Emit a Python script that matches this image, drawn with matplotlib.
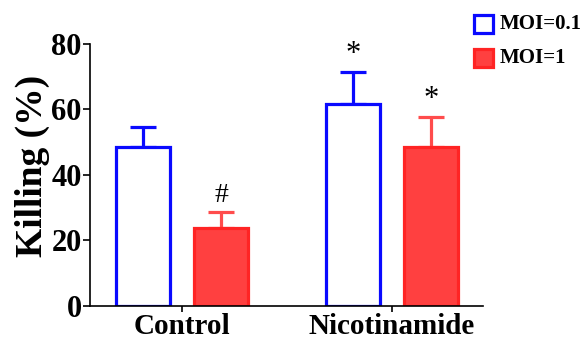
import numpy as np
import matplotlib
matplotlib.use("Agg")
import matplotlib.pyplot as plt
import matplotlib.patches as patches

groups = ["Control", "Nicotinamide"]
series = ["MOI=0.1", "MOI=1"]
means_low = [48.5, 61.7]
err_low = [6.2, 9.8]
means_high = [23.8, 48.5]
err_high = [4.9, 9.2]
marks_low = ["", "*"]
marks_high = ["#", "*"]

blue = "#0a0aff"
red_edge = "#ff2424"
red_fill = "#ff4040"

plt.rcParams["font.family"] = ["Liberation Serif", "DejaVu Serif"]
plt.rcParams["font.weight"] = "bold"

fig = plt.figure(figsize=(5.82, 3.4), dpi=100)
ax = fig.add_axes([0.1546, 0.1, 0.6754, 0.7706])

x = np.arange(len(groups))
w = 0.257
off = 0.186
lw = 2.3

ax.bar(x - off, means_low, w, facecolor="white", edgecolor=blue, linewidth=lw, zorder=2)
ax.errorbar(x - off, means_low, yerr=[np.zeros(2), err_low], fmt="none",
            ecolor=blue, elinewidth=lw, capsize=9.5, capthick=lw, zorder=1)
ax.bar(x + off, means_high, w, facecolor=red_fill, edgecolor=red_edge, linewidth=lw, zorder=2)
ax.errorbar(x + off, means_high, yerr=[np.zeros(2), err_high], fmt="none",
            ecolor="#ff4c4c", elinewidth=lw, capsize=9.5, capthick=lw, zorder=1)

# significance marks above error bars
for i in range(len(groups)):
    for xi, m, e, mk in [(x[i] - off, means_low[i], err_low[i], marks_low[i]),
                         (x[i] + off, means_high[i], err_high[i], marks_high[i])]:
        if mk:
            ax.text(xi, m + e + 3, mk, ha="center", va="baseline",
                    fontsize=22 if mk == "*" else 20, fontweight="normal")

ax.set_xlim(-0.438, 1.433)
ax.set_ylim(0, 80)
ax.set_yticks([0, 20, 40, 60, 80])
ax.set_xticks(x)
ax.set_xticklabels(groups, fontsize=21, fontweight="bold")
ax.tick_params(axis="y", labelsize=22, width=1.2, length=5, pad=1)
ax.tick_params(axis="x", width=1.2, length=4, pad=1)
for lab in ax.get_yticklabels():
    lab.set_fontweight("bold")
ax.spines["top"].set_visible(False)
ax.spines["right"].set_visible(False)
ax.spines["left"].set_linewidth(1.2)
ax.spines["bottom"].set_linewidth(1.2)
ax.set_ylabel("Killing (%)", fontsize=27, fontweight="bold", labelpad=1)
ax.yaxis.label.set_y(0.535)

# legend drawn in figure coordinates
fig.patches.append(patches.Rectangle((474 / 582, 1 - 33 / 340), 19 / 582, 18 / 340,
                                     transform=fig.transFigure, facecolor="white",
                                     edgecolor=blue, linewidth=lw))
fig.patches.append(patches.Rectangle((474 / 582, 1 - 67 / 340), 19 / 582, 18 / 340,
                                     transform=fig.transFigure, facecolor=red_fill,
                                     edgecolor=red_edge, linewidth=lw))
fig.text(500 / 582, 1 - 24 / 340, series[0], fontsize=15, fontweight="bold", va="center")
fig.text(500 / 582, 1 - 58 / 340, series[1], fontsize=15, fontweight="bold", va="center")

fig.savefig("out.png", dpi=100)
